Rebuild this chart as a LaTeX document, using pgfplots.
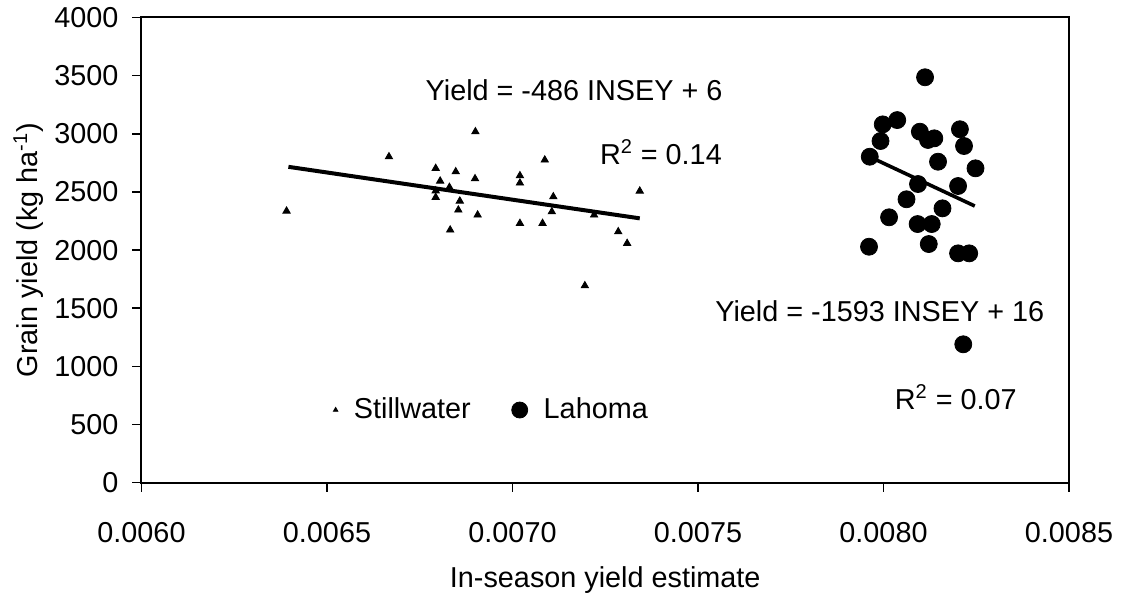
\documentclass[border=0pt]{standalone}
\usepackage{fontspec}
\setmainfont{Liberation Sans}
\usepackage{pgfplots}
\pgfplotsset{compat=1.18}
\pgfplotstableread{
x y
0.006391 2336
0.006667 2803
0.006900 3018
0.006793 2703
0.006847 2674
0.006805 2594
0.006899 2614
0.007020 2640
0.007020 2577
0.007087 2775
0.006830 2540
0.006793 2454
0.006793 2510
0.006854 2345
0.006858 2422
0.006906 2302
0.006832 2173
0.007020 2230
0.007081 2230
0.007110 2459
0.007106 2330
0.007220 2302
0.007343 2508
0.007285 2158
0.007309 2058
0.007195 1694
}\stillwater
\pgfplotstableread{
x y
0.008112 3486
0.008037 3118
0.007998 3081
0.007992 2938
0.008098 3018
0.008120 2947
0.008137 2961
0.008206 3039
0.008217 2895
0.007963 2803
0.008147 2760
0.008248 2703
0.008093 2568
0.008201 2551
0.008062 2437
0.008159 2359
0.008015 2282
0.008092 2224
0.008130 2224
0.007961 2029
0.008122 2052
0.008201 1972
0.008231 1972
0.008215 1190
}\lahoma
\begin{document}
\begin{tikzpicture}
\begin{axis}[name=ax, scale only axis, width=463.75pt, height=232.6pt,
  xmin=0.006, xmax=0.0085, ymin=0, ymax=4000,
  xtick={0.006,0.0065,0.007,0.0075,0.008,0.0085},
  ytick={0,500,1000,1500,2000,2500,3000,3500,4000},
  scaled x ticks=false,
  xticklabel style={yshift=-12pt, /pgf/number format/.cd, fixed, fixed zerofill, precision=4, assume math mode=true},
  yticklabel style={xshift=-3.5pt, /pgf/number format/.cd, 1000 sep={}, assume math mode=true},
  tick align=outside, major tick length=4.5pt,
  xtick pos=bottom, ytick pos=left,
  tick style={black, line width=0.8pt},
  axis line style={line width=1pt},
  font=\fontsize{14.4}{17}\selectfont,
  xlabel={In-season yield estimate},
  xlabel style={at={(axis description cs:0.5,0)}, anchor=center, yshift=-48.5pt},
  ylabel={Grain yield (kg ha\textsuperscript{-1})},
  ylabel style={at={(axis description cs:0,0.5)}, anchor=center, yshift=56.5pt},
  legend style={draw=none, fill=none, at={(axis cs:0.00650,625)}, anchor=west,
    font=\fontsize{14.4}{17}\selectfont},
  legend columns=2,
  legend cell align=left,
  /tikz/every even column/.append style={column sep=18.5pt},
  /tikz/every odd column/.append style={column sep=6pt},
]
\addplot[only marks, mark=triangle*, mark size=2.1pt, black, forget plot] table {\stillwater};
\addplot[only marks, mark=*, mark size=4.25pt, black, forget plot] table {\lahoma};
\addplot[black, line width=2pt, forget plot] coordinates {(0.006396,2716) (0.007343,2273)};
\addplot[black, line width=1.8pt, forget plot] coordinates {(0.007981,2775) (0.008246,2379)};
\addlegendimage{only marks, mark=triangle*, mark size=1.3pt, black}
\addlegendentry{Stillwater}
\addlegendimage{only marks, mark=*, mark size=4pt, black}
\addlegendentry{Lahoma}
\node[font=\fontsize{14.4}{17}\selectfont] at (axis cs:0.007166,3376) {Yield = -486 INSEY + 6};
\node[font=\fontsize{14.4}{17}\selectfont] at (axis cs:0.0074,2843) {R\textsuperscript{2} = 0.14};
\node[font=\fontsize{14.4}{17}\selectfont] at (axis cs:0.007990,1476) {Yield = -1593 INSEY + 16};
\node[font=\fontsize{14.4}{17}\selectfont] at (axis cs:0.008195,737) {R\textsuperscript{2} = 0.07};
\end{axis}
\pgfresetboundingbox
\path (ax.south west) ++(-70.75pt,-58.15pt) coordinate (bl);
\path (ax.north east) ++(30.5pt,8.75pt) coordinate (tr);
\path[use as bounding box] (bl) rectangle (tr);
\end{tikzpicture}
\end{document}
